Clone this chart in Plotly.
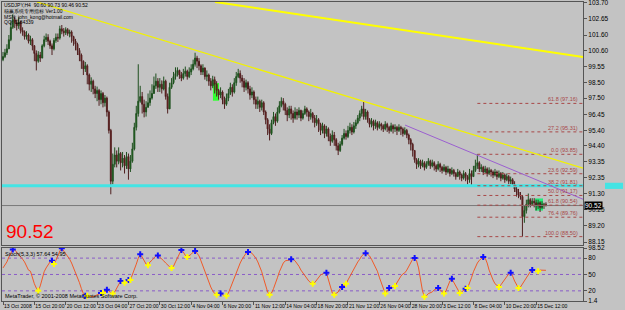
import plotly.graph_objects as go

# ---------------- data ----------------
closes = [
    100.20, 100.45, 100.70, 101.30, 102.10, 102.60, 102.40, 102.20, 102.45, 101.90,
    101.80, 101.50, 101.60, 101.20, 101.30, 100.90, 100.40, 99.90, 100.30, 100.10,
    100.90, 101.30, 101.45, 101.20, 100.90, 100.70, 101.25, 101.45, 101.40, 102.00,
    101.85, 101.75, 101.95, 101.70, 101.80, 101.50, 101.20, 101.00, 100.60, 100.30,
    99.90, 99.40, 99.60, 99.00, 98.40, 98.60, 98.10, 97.80, 98.00, 97.40,
    97.80, 97.20, 97.50, 96.60, 95.40, 92.10, 93.20, 93.80, 93.40, 93.90,
    93.30, 93.60, 93.10, 93.70, 92.90, 93.40, 94.20, 95.60, 96.50, 97.30,
    97.60, 97.10, 96.60, 96.90, 97.20, 97.50, 97.80, 98.30, 98.60, 98.20,
    98.40, 98.10, 98.60, 97.60, 96.80, 98.20, 98.50, 98.90, 99.10, 99.30,
    99.00, 98.80, 99.10, 99.25, 98.90, 99.20, 99.40, 99.70, 100.10, 99.90,
    99.60, 99.20, 99.45, 98.90, 99.00, 98.60, 98.30, 98.70, 98.40, 98.00,
    97.70, 97.90, 97.40, 97.10, 97.50, 97.80, 98.20, 97.90, 98.50, 98.90,
    99.10, 98.80, 98.60, 98.20, 98.50, 98.10, 97.70, 97.90, 97.40, 97.10,
    97.30, 96.90, 97.20, 96.60, 96.10, 95.50, 95.20, 95.90, 96.30, 96.00,
    96.60, 97.00, 97.30, 97.10, 96.70, 96.40, 96.80, 96.50, 96.20, 96.60,
    96.40, 96.70, 96.20, 96.50, 96.80, 96.60, 96.30, 96.50, 96.20, 95.90,
    96.10, 95.80, 95.40, 95.70, 95.20, 95.50, 95.00, 94.70, 95.10, 94.80,
    94.40, 94.10, 94.50, 94.90, 95.20, 95.00, 95.40, 95.60, 95.30, 95.70,
    95.90, 96.20, 96.50, 96.80, 96.30, 96.60, 96.10, 95.80, 96.00, 95.70,
    95.90, 95.60, 95.80, 95.70, 95.50, 95.80, 95.60, 95.40, 95.70, 95.50,
    95.60, 95.40, 95.60, 95.50, 95.20, 95.40, 95.10, 94.80, 94.50, 94.10,
    93.50, 93.20, 93.40, 93.10, 93.30, 93.00, 93.20, 93.40, 93.10, 93.30,
    93.10, 92.90, 93.20, 93.00, 92.80, 93.00, 92.70, 92.90, 92.60, 92.80,
    92.60, 92.40, 92.70, 92.50, 92.30, 92.60, 92.40, 92.20, 92.60, 92.40,
    92.80, 93.10, 93.30, 92.90, 93.00, 92.70, 92.90, 92.60, 92.80, 92.70,
    92.50, 92.70, 92.40, 92.60, 92.30, 92.50, 92.20, 92.40, 92.10, 92.20,
    91.90, 91.60, 91.40, 91.20, 91.10, 89.80, 90.20, 90.60, 90.90, 90.60,
    90.80, 90.70, 90.50, 90.70, 90.40, 90.60, 90.60, 90.52,
]
highs = [
    100.50, 100.70, 101.00, 101.60, 102.50, 102.95, 102.80, 102.60, 102.75, 102.50,
    102.10, 101.90, 101.85, 101.70, 101.55, 101.40, 100.95, 100.60, 100.55, 100.50,
    101.00, 101.55, 101.70, 101.65, 101.30, 101.05, 101.40, 101.70, 101.70, 102.20,
    102.25, 102.05, 102.10, 102.05, 101.95, 101.90, 101.55, 101.35, 101.10, 100.75,
    100.40, 99.95, 99.85, 99.70, 99.10, 98.85, 98.70, 98.30, 98.25, 98.10,
    98.00, 97.90, 97.70, 97.60, 96.70, 95.50, 93.90, 94.30, 94.10, 94.30,
    94.00, 94.00, 93.80, 94.00, 93.90, 93.80, 94.60, 95.90, 97.00, 99.70,
    98.30, 97.90, 97.40, 97.30, 97.80, 98.00, 98.40, 98.90, 99.10, 98.80,
    98.80, 98.65, 98.90, 98.70, 97.80, 98.50, 98.80, 99.20, 99.50, 99.50,
    99.35, 99.20, 99.40, 99.55, 99.35, 99.50, 99.70, 100.00, 100.45, 100.25,
    100.10, 99.70, 99.70, 99.50, 99.30, 99.10, 98.80, 98.95, 98.90, 98.60,
    98.10, 98.20, 98.00, 97.60, 97.80, 98.10, 98.50, 98.40, 98.80, 99.20,
    99.40, 99.30, 99.00, 98.80, 98.70, 98.60, 98.30, 98.20, 98.00, 97.60,
    97.60, 97.40, 97.40, 97.30, 96.70, 96.20, 95.80, 96.10, 96.60, 96.50,
    96.90, 97.30, 97.55, 97.50, 97.20, 96.90, 97.00, 97.00, 96.70, 96.90,
    96.80, 96.90, 96.75, 96.70, 97.00, 96.90, 96.70, 96.80, 96.60, 96.40,
    96.40, 96.20, 95.90, 95.90, 95.80, 95.70, 95.60, 95.20, 95.40, 95.30,
    94.90, 94.60, 94.70, 95.10, 95.50, 95.40, 95.70, 95.90, 95.80, 95.95,
    96.10, 96.40, 96.70, 97.00, 97.25, 96.80, 96.70, 96.20, 96.20, 96.10,
    96.10, 96.00, 96.00, 95.90, 95.80, 96.00, 95.90, 95.70, 95.90, 95.80,
    95.80, 95.70, 95.80, 95.70, 95.60, 95.60, 95.50, 95.20, 94.90, 94.60,
    94.10, 93.60, 93.60, 93.50, 93.50, 93.40, 93.40, 93.60, 93.50, 93.50,
    93.40, 93.20, 93.40, 93.30, 93.10, 93.20, 93.10, 93.10, 92.90, 93.00,
    92.90, 92.70, 92.90, 92.80, 92.60, 92.80, 92.70, 92.50, 92.90, 92.80,
    93.10, 93.50, 93.85, 93.40, 93.20, 93.10, 93.10, 93.00, 93.00, 92.90,
    92.80, 92.90, 92.80, 92.80, 92.70, 92.70, 92.60, 92.60, 92.50, 92.40,
    92.30, 92.10, 91.80, 91.60, 91.40, 91.20, 90.50, 90.90, 91.30, 91.00,
    91.00, 91.00, 90.90, 90.90, 90.80, 90.80, 90.70, 90.73,
]
lows = [
    99.90, 100.10, 100.30, 100.70, 101.20, 102.00, 102.05, 101.90, 102.00, 101.70,
    101.55, 101.30, 101.30, 101.05, 100.95, 100.60, 99.90, 99.30, 99.80, 99.85,
    100.10, 100.80, 101.15, 100.95, 100.70, 100.30, 100.60, 101.10, 101.15, 101.30,
    101.65, 101.50, 101.60, 101.55, 101.45, 101.10, 100.90, 100.60, 100.30, 99.90,
    99.40, 99.00, 99.20, 98.40, 98.00, 97.90, 97.75, 97.50, 97.30, 97.00,
    97.10, 96.90, 96.95, 96.30, 95.20, 91.25, 91.90, 93.00, 93.00, 93.20,
    92.80, 93.00, 92.60, 92.90, 92.20, 92.70, 93.30, 94.10, 95.40, 96.30,
    97.20, 96.50, 96.25, 96.30, 96.90, 97.00, 97.40, 97.80, 98.10, 97.90,
    97.90, 97.80, 98.00, 97.40, 96.50, 96.90, 98.10, 98.40, 98.70, 98.90,
    98.75, 98.60, 98.70, 98.90, 98.70, 98.80, 99.00, 99.30, 99.55, 99.45,
    99.30, 99.00, 99.00, 98.70, 98.60, 98.30, 98.00, 98.15, 97.80, 97.60,
    97.40, 97.50, 97.10, 96.80, 97.00, 97.30, 97.70, 97.60, 97.80, 98.30,
    98.80, 98.50, 98.20, 97.90, 98.00, 97.80, 97.40, 97.50, 97.10, 96.80,
    96.80, 96.60, 96.70, 96.40, 95.80, 95.10, 94.75, 95.10, 95.80, 95.70,
    95.90, 96.50, 96.90, 96.70, 96.40, 96.00, 96.20, 96.10, 95.90, 96.10,
    96.10, 96.20, 96.00, 96.10, 96.40, 96.30, 96.00, 96.10, 95.90, 95.60,
    95.70, 95.30, 95.10, 95.20, 94.90, 95.00, 94.70, 94.40, 94.60, 94.40,
    94.10, 93.80, 94.00, 94.40, 94.80, 94.80, 94.90, 95.20, 95.10, 95.20,
    95.50, 95.80, 96.00, 96.30, 96.10, 96.10, 95.90, 95.60, 95.60, 95.40,
    95.50, 95.40, 95.50, 95.40, 95.30, 95.40, 95.30, 95.20, 95.30, 95.20,
    95.30, 95.10, 95.30, 95.10, 95.00, 95.10, 94.90, 94.50, 94.10, 93.70,
    93.30, 92.90, 93.00, 92.90, 93.00, 92.80, 92.90, 93.10, 92.90, 93.00,
    92.80, 92.70, 92.80, 92.70, 92.60, 92.70, 92.50, 92.60, 92.40, 92.50,
    92.40, 92.20, 92.40, 92.20, 92.10, 92.20, 92.10, 91.90, 92.00, 91.80,
    92.40, 92.70, 92.90, 92.70, 92.70, 92.50, 92.60, 92.40, 92.50, 92.40,
    92.30, 92.40, 92.20, 92.30, 92.10, 92.20, 92.00, 92.10, 91.90, 91.90,
    91.80, 91.40, 91.10, 91.00, 90.90, 88.50, 89.40, 90.00, 90.40, 90.40,
    90.50, 90.40, 90.20, 90.30, 90.10, 90.30, 90.30, 90.46,
]
first_open = 100.00

stoch = [
    62, 67, 73, 82, 89, 96, 95, 91, 87, 84,
    78, 73, 65, 58, 56, 44, 33, 25, 20, 29,
    42, 55, 62, 69, 73, 75, 69, 76, 85, 93,
    98, 93, 87, 84, 78, 71, 62, 55, 47, 35,
    24, 15, 11, 11, 11, 9, 9, 11, 13, 15,
    16, 16, 18, 22, 20, 16, 15, 18, 24, 31,
    38, 36, 35, 36, 40, 40, 49, 58, 69, 80,
    87, 82, 76, 69, 67, 73, 76, 80, 84, 85,
    82, 78, 75, 71, 67, 64, 62, 65, 73, 80,
    87, 95, 91, 85, 82, 84, 87, 91, 93, 89,
    84, 75, 65, 58, 47, 36, 27, 20, 15, 13,
    13, 15, 13, 11, 11, 16, 25, 35, 44, 53,
    62, 71, 78, 84, 89, 91, 91, 89, 85, 80,
    73, 65, 55, 42, 29, 18, 13, 16, 24, 33,
    44, 55, 64, 71, 75, 76, 76, 78, 78, 75,
    71, 65, 58, 53, 47, 42, 38, 35, 33, 35,
    40, 45, 49, 51, 53, 53, 42, 27, 16, 13,
    15, 18, 24, 27, 29, 33, 40, 47, 55, 62,
    67, 73, 78, 84, 87, 89, 87, 84, 78, 71,
    64, 56, 45, 35, 24, 15, 20, 25, 27, 27,
    29, 35, 42, 47, 51, 53, 58, 64, 71, 78,
    80, 75, 62, 40, 20, 9, 11, 15, 16, 18,
    22, 24, 25, 22, 18, 15, 20, 29, 38, 42,
    35, 27, 20, 16, 18, 22, 24, 25, 33, 44,
    55, 64, 71, 76, 80, 82, 80, 71, 58, 47,
    40, 33, 29, 27, 31, 36, 42, 47, 51, 53,
    47, 38, 31, 25, 27, 33, 38, 44, 49, 55,
    58, 58, 56, 56, 58, 58, 58, 57.64,
]
blue_idx = [5, 25, 30, 42, 50, 53, 60, 64, 70, 79, 91, 98, 111, 125, 147, 165,
            173, 185, 197, 210, 222, 229, 236, 245, 259, 270]
yellow_idx = [18, 26, 43, 51, 56, 62, 65, 74, 86, 94, 109, 114, 136, 158, 169,
              175, 195, 200, 215, 225, 233, 237, 253, 263, 273]

x_labels = ["13 Oct 2008", "15 Oct 20:00", "20 Oct 12:00", "23 Oct 04:00",
            "27 Oct 20:00", "30 Oct 12:00", "4 Nov 04:00", "6 Nov 20:00",
            "11 Nov 12:00", "14 Nov 04:00", "18 Nov 20:00", "21 Nov 12:00",
            "26 Nov 04:00", "28 Nov 20:00", "3 Dec 12:00", "8 Dec 04:00",
            "10 Dec 20:00", "15 Dec 12:00"]
bars_per_label = 16
price_ticks = [103.70, 102.65, 101.60, 100.60, 99.55, 98.50, 97.50, 96.45,
               95.40, 94.40, 93.35, 92.35, 91.30, 90.25, 89.20, 88.15]
stoch_ticks = [98.52, 80, 50, 20, 1.4]
stoch_levels = [80, 50, 20]

# trend lines: (bar, price) anchors
yellow_upper = ([108.2, 295.9], [103.75, 100.17])
yellow_lower = ([17.3, 295.9], [103.75, 92.95])
purple_line = ([205.1, 295.9], [95.75, 90.93])
cyan_level = 91.80
last_price = 90.52
# fibonacci retracement anchors
fib_start_bar = 242
fib_high = 93.85
fib_low = 88.50
fib_levels = [-61.8, -27.2, 0.0, 23.6, 38.2, 50.0, 61.8, 76.4, 100.0]
# highlight boxes (bar range, price range)
box1 = (107.1, 110.2, 97.33, 98.48)
box2 = (271.4, 275.5, 90.19, 90.98)

header_lines = ["USDJPY,H4  90.60 90.73 90.46 90.52",
                "稳赢系统专用指标 Ver1.00",
                "MSN: john_kong@hotmail.com",
                "QQ: 1184339"]
stoch_title = "Stoch(5,3,3) 57.64 54.95"
copyright_txt = "MetaTrader, © 2001-2008 MetaQuotes Software Corp."

# ---------------- figure ----------------
W, H = 625, 310
opens = [first_open] + closes[:-1]
highs = [max(h, o, c) for h, o, c in zip(highs, opens, closes)]
lows = [min(l, o, c) for l, o, c in zip(lows, opens, closes)]
n = len(closes)
bars = list(range(n))

FONT = "Liberation Sans"
BG = "#c3c3c3"
AX = "#555555"

def px_x(p):
    return p / W

def px_y(p):
    return 1 - p / H

x_range = [-0.51, 295.9]
main_dom = [px_y(245), px_y(2)]
stoch_dom = [px_y(301), px_y(248)]
main_range = [87.956, 103.745]
stoch_range = [1.4, 98.52]

fig = go.Figure()

# horizontal / trend objects under candles
fig.add_trace(go.Scatter(x=x_range, y=[cyan_level, cyan_level], mode="lines",
                         line=dict(color="#44e4e4", width=3), xaxis="x", yaxis="y",
                         hoverinfo="skip"))
fig.add_trace(go.Scatter(x=x_range, y=[last_price, last_price], mode="lines",
                         line=dict(color="#7a7a7a", width=1), xaxis="x", yaxis="y",
                         hoverinfo="skip"))

fib_prices = [fib_high - (fib_high - fib_low) * lv / 100 for lv in fib_levels]
for lv, fp in zip(fib_levels, fib_prices):
    fig.add_trace(go.Scatter(x=[fib_start_bar, x_range[1]], y=[fp, fp], mode="lines",
                             line=dict(color="#a84848", width=1, dash="dot"),
                             xaxis="x", yaxis="y", hoverinfo="skip"))

fig.add_trace(go.Candlestick(
    x=bars, open=opens, high=highs, low=lows, close=closes,
    increasing=dict(line=dict(color="#1f4f1f", width=1), fillcolor="#0b7a0b"),
    decreasing=dict(line=dict(color="#4f1f1f", width=1), fillcolor="#8e0c0c"),
    whiskerwidth=0, xaxis="x", yaxis="y", hoverinfo="skip"))

for (bx, py), col, wd in [(yellow_upper, "#ffff00", 2), (yellow_lower, "#f2f200", 1.2),
                          (purple_line, "#9b5fd0", 1)]:
    fig.add_trace(go.Scatter(x=bx, y=py, mode="lines", line=dict(color=col, width=wd),
                             xaxis="x", yaxis="y", hoverinfo="skip"))

# stochastic pane
for lv in stoch_levels:
    fig.add_trace(go.Scatter(x=x_range, y=[lv, lv], mode="lines",
                             line=dict(color="#8a5cc8", width=1, dash="dot"),
                             xaxis="x2", yaxis="y2", hoverinfo="skip"))
fig.add_trace(go.Scatter(x=bars, y=stoch, mode="lines",
                         line=dict(color="#f05a28", width=1),
                         xaxis="x2", yaxis="y2", hoverinfo="skip"))
fig.add_trace(go.Scatter(x=blue_idx, y=[stoch[i] for i in blue_idx], mode="markers",
                         marker=dict(symbol="cross", size=5, color="#1010ff"),
                         xaxis="x2", yaxis="y2", hoverinfo="skip"))
fig.add_trace(go.Scatter(x=yellow_idx, y=[stoch[i] for i in yellow_idx], mode="markers",
                         marker=dict(symbol="cross", size=5, color="#ffff00"),
                         xaxis="x2", yaxis="y2", hoverinfo="skip"))

shapes = []
for (x0, x1, y0, y1), col in [(box1, "#33ff33"), (box2, "#22ee77")]:
    shapes.append(dict(type="rect", xref="x", yref="y", x0=x0, x1=x1, y0=y0, y1=y1,
                       fillcolor=col, line=dict(width=0), layer="below"))
shapes.append(dict(type="rect", xref="paper", yref="y", x0=px_x(605), x1=px_x(623),
                   y0=cyan_level - 0.2, y1=cyan_level + 0.2, fillcolor="#44e4e4",
                   line=dict(width=0)))

annotations = []
for k, t in enumerate(header_lines):
    annotations.append(dict(xref="paper", yref="paper", x=px_x(3), y=px_y(5 + 5.8 * k),
                            xanchor="left", yanchor="middle", text=t, showarrow=False,
                            borderpad=0,
                            font=dict(family=FONT, size=5, color="#000000")))
annotations.append(dict(xref="paper", yref="paper", x=px_x(4), y=px_y(231),
                        xanchor="left", yanchor="middle", text=f"{last_price:.2f}",
                        showarrow=False, font=dict(family=FONT, size=19, color="#ff0000")))
annotations.append(dict(xref="paper", yref="paper", x=px_x(3), y=px_y(249),
                        xanchor="left", yanchor="top", text=stoch_title, showarrow=False,
                        font=dict(family=FONT, size=5.5, color="#000000")))
annotations.append(dict(xref="paper", yref="paper", x=px_x(3), y=px_y(296),
                        xanchor="left", yanchor="middle", text=copyright_txt, showarrow=False,
                        font=dict(family=FONT, size=5.5, color="#000000")))
for lv, fp in zip(fib_levels, fib_prices):
    annotations.append(dict(xref="x", yref="y", x=294.3, y=fp, xanchor="right",
                            yanchor="bottom", text=f"{abs(lv):.1f} ({fp:.2f})",
                            showarrow=False, yshift=-1,
                            font=dict(family=FONT, size=5.5, color="#a84848")))
annotations.append(dict(xref="paper", yref="y", x=px_x(584), y=last_price, xanchor="left",
                        yanchor="middle", text=f"{last_price:.2f}", showarrow=False,
                        bgcolor="#000000", borderpad=0,
                        font=dict(family=FONT, size=6.5, color="#ffffff")))

fig.update_layout(
    width=W, height=H, margin=dict(l=0, r=0, t=0, b=0, autoexpand=False),
    paper_bgcolor=BG, plot_bgcolor=BG, showlegend=False, hovermode=False,
    shapes=shapes, annotations=annotations,
    xaxis=dict(domain=[px_x(2), px_x(583)], range=x_range, anchor="y",
               showticklabels=False, showgrid=False, zeroline=False, automargin=False,
               showline=True, mirror=True, linecolor=AX, linewidth=1,
               rangeslider=dict(visible=False), ticks=""),
    yaxis=dict(domain=main_dom, range=main_range, anchor="x", side="right",
               tickvals=price_ticks, ticktext=[f"{v:.2f}" for v in price_ticks],
               ticks="outside", ticklen=3, tickcolor=AX, automargin=False,
               ticklabeloverflow="allow",
               tickfont=dict(family=FONT, size=6.5, color="#000000"),
               showgrid=False, zeroline=False, showline=True, mirror=True,
               linecolor=AX, linewidth=1),
    xaxis2=dict(domain=[px_x(2), px_x(583)], range=x_range, anchor="y2", matches="x",
                tickvals=[bars_per_label * i for i in range(len(x_labels))],
                ticktext=x_labels, ticklabelposition="outside right", tickangle=0,
                ticks="outside", ticklen=3, tickcolor=AX, automargin=False,
                ticklabeloverflow="allow",
                tickfont=dict(family=FONT, size=5.1, color="#000000"),
                showgrid=False, zeroline=False, showline=True, mirror=True,
                linecolor=AX, linewidth=1),
    yaxis2=dict(domain=stoch_dom, range=stoch_range, anchor="x2", side="right",
                tickvals=stoch_ticks, ticktext=["98.52", "80", "50", "20", "1.4"],
                ticks="outside", ticklen=3, tickcolor=AX, automargin=False,
                ticklabeloverflow="allow",
                tickfont=dict(family=FONT, size=6.5, color="#000000"),
                showgrid=False, zeroline=False, showline=True, mirror=True,
                linecolor=AX, linewidth=1),
)

fig.write_html("out.html")
